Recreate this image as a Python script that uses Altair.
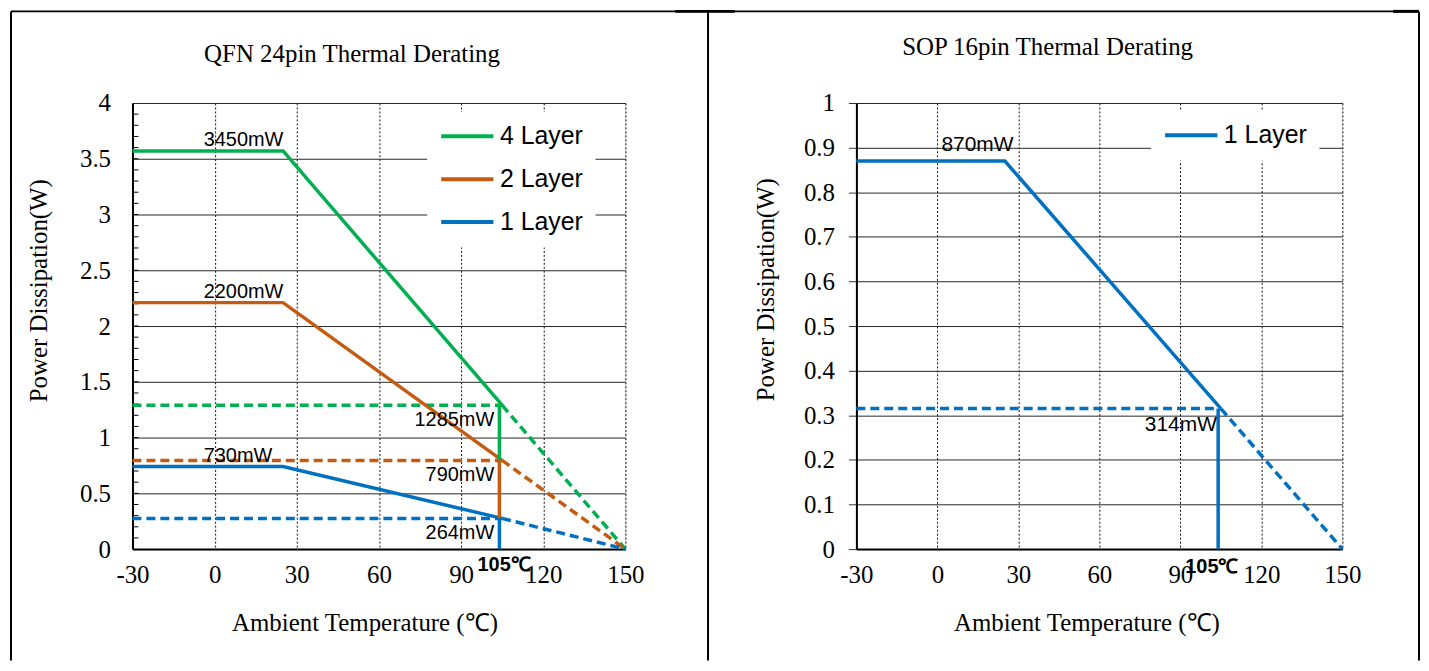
import altair as alt
import pandas as pd

# ---------------- data ----------------
# Left panel: QFN 24pin
qfn_layers = ["4 Layer", "2 Layer", "1 Layer"]
qfn_colors = ["#00B050", "#C55A11", "#0070C0"]
qfn_p_max = [3.57, 2.21, 0.74]          # W, flat part (up to the knee)
qfn_p_105 = [1.29, 0.795, 0.275]        # W, at 105 degC
qfn_v_bottom = [0.795, 0.275, 0.0]      # W, bottom of the vertical marker at 105 degC
qfn_top_labels = ["3450mW", "2200mW", "730mW"]
qfn_low_labels = ["1285mW", "790mW", "264mW"]

# Right panel: SOP 16pin
sop_layers = ["1 Layer"]
sop_colors = ["#0070C0"]
sop_p_max = [0.87]
sop_p_105 = [0.315]
sop_v_bottom = [0.0]
sop_top_labels = ["870mW"]
sop_low_labels = ["314mW"]

# temperatures (degC)
t_min = -30
t_knee = 25
t_rated = 105
t_vert = 104
t_zero = 150
t_label_qfn = -4
t_label_sop = 1.5

x_ticks = [-30, 0, 30, 60, 90, 120, 150]
qfn_y_ticks = [0, 0.5, 1, 1.5, 2, 2.5, 3, 3.5, 4]
qfn_minor_ticks = [i / 10 for i in range(1, 40)]
sop_y_ticks = [0, 0.1, 0.2, 0.3, 0.4, 0.5, 0.6, 0.7, 0.8, 0.9, 1]

SERIF = "Liberation Serif"
SANS = "Liberation Sans"


def panel(title, title_dx, title_offset, layers, colors, p_max, p_105, v_bottom,
          top_labels, low_labels, t_label, y_ticks, y_max, width, height,
          legend_xy, top_dy, low_dx, low_dy, deg_dx, deg_dy, ann_size,
          y_tick_size, y_label_pad, y_title_xy, x_title_xy, minor=None, frame=None):
    solid, dashed, vert, tops, lows = [], [], [], [], []
    for lay, pm, p5, vb, tl, ll in zip(layers, p_max, p_105, v_bottom, top_labels, low_labels):
        solid += [dict(layer=lay, t=t_min, p=pm), dict(layer=lay, t=t_knee, p=pm),
                  dict(layer=lay, t=t_rated, p=p5)]
        dashed += [dict(layer=lay, seg="h", t=t_min, p=p5), dict(layer=lay, seg="h", t=t_rated, p=p5),
                   dict(layer=lay, seg="d", t=t_rated, p=p5), dict(layer=lay, seg="d", t=t_zero, p=0)]
        vert.append(dict(layer=lay, t=t_vert, p=p5, p2=vb))
        tops.append(dict(t=t_label, p=pm, txt=tl))
        lows.append(dict(t=t_rated, p=p5, txt=ll))
    deg = [dict(t=t_rated, p=0, txt="105℃")]

    X = alt.X("t:Q", scale=alt.Scale(domain=[-30, 150], nice=False, zero=False),
              axis=alt.Axis(values=x_ticks, labelExpr="'' + datum.value",
                            title="Ambient Temperature (℃)",
                            labelFont=SERIF, labelFontSize=25, labelColor="black",
                            labelPadding=14, ticks=False, domainColor="black", domainWidth=2,
                            grid=True, gridColor="#111111", gridDash=[2, 2], gridWidth=1,
                            titleFont=SERIF, titleFontSize=25, titleFontWeight="normal",
                            titleColor="black", titleX=x_title_xy[0], titleY=x_title_xy[1],
                            titleAlign="center", titleBaseline="alphabetic", labelFlush=False))
    Y = alt.Y("p:Q", scale=alt.Scale(domain=[0, y_max], nice=False),
              axis=alt.Axis(values=y_ticks, labelExpr="'' + datum.value",
                            title="Power Dissipation(W)",
                            labelFont=SERIF, labelFontSize=25, labelColor="black",
                            labelPadding=y_label_pad, ticks=y_tick_size > 0,
                            tickSize=max(y_tick_size, 0), tickColor="#333333",
                            domainColor="black", domainWidth=2,
                            grid=True, gridColor="#262626", gridWidth=1,
                            titleFont=SERIF, titleFontSize=25, titleFontWeight="normal",
                            titleColor="black", titleAngle=270, titleX=y_title_xy[0],
                            titleY=y_title_xy[1], titleAlign="center", titleBaseline="middle",
                            labelFlush=False))
    leg = alt.Legend(title=None, orient="none", legendX=legend_xy[0], legendY=legend_xy[1],
                     direction="vertical", symbolType="M-1,0H4", symbolSize=441,
                     symbolStrokeWidth=4, labelFont=SANS, labelFontSize=25,
                     labelColor="black", labelOffset=36, rowPadding=17, padding=12,
                     fillColor="white")
    C = alt.Color("layer:N", scale=alt.Scale(domain=layers, range=colors), legend=leg)

    base_layers = []
    if minor is not None:
        base_layers.append(
            alt.Chart(pd.DataFrame({"p": minor})).mark_rule(color="black", strokeWidth=1)
            .encode(y=Y, x=alt.value(0), x2=alt.value(6)))
    dashed_l = alt.Chart(pd.DataFrame(dashed)).mark_line(strokeWidth=3.5, strokeDash=[9, 5]).encode(
        x=X, y=Y, color=C, detail="seg:N")
    solid_l = alt.Chart(pd.DataFrame(solid)).mark_line(strokeWidth=3.5).encode(x=X, y=Y, color=C)
    vert_l = alt.Chart(pd.DataFrame(vert)).mark_rule(strokeWidth=3.5).encode(
        x=X, y=Y, y2="p2:Q", color=C)
    top_t = alt.Chart(pd.DataFrame(tops)).mark_text(
        align="left", baseline="alphabetic", dy=top_dy, font=SANS, fontSize=ann_size,
        color="black").encode(x=X, y=Y, text="txt:N")
    low_t = alt.Chart(pd.DataFrame(lows)).mark_text(
        align="right", baseline="alphabetic", dx=low_dx, dy=low_dy, font=SANS,
        fontSize=ann_size, color="black").encode(x=X, y=Y, text="txt:N")
    deg_t = alt.Chart(pd.DataFrame(deg)).mark_text(
        align="center", baseline="alphabetic", dx=deg_dx, dy=deg_dy, font=SANS,
        fontSize=20, fontWeight="bold", color="black").encode(x=X, y=Y, text="txt:N")

    frame_layers = []
    one = alt.Data(values=[{"k": 1}])
    for kind, a, b, c, w in frame:
        if kind == "v":
            enc = dict(x=alt.value(a), y=alt.value(b), y2=alt.value(c))
        else:
            enc = dict(y=alt.value(a), x=alt.value(b), x2=alt.value(c))
        frame_layers.append(alt.Chart(one).mark_rule(color="black", strokeWidth=w, clip=False)
                            .encode(**enc))

    ch = alt.layer(*base_layers, dashed_l, solid_l, vert_l, top_t, low_t, deg_t, *frame_layers)
    return ch.properties(
        width=width, height=height,
        title=alt.TitleParams(title, font=SERIF, fontSize=25, fontWeight="normal",
                              color="black", frame="group", anchor="middle", dx=title_dx,
                              offset=title_offset, baseline="alphabetic"))


left = panel("QFN 24pin Thermal Derating", -27, -77, qfn_layers, qfn_colors, qfn_p_max, qfn_p_105,
             qfn_v_bottom, qfn_top_labels, qfn_low_labels, t_label_qfn, qfn_y_ticks, 4, 495, 448,
             (296, 9), -5, -8, 21, 2, 22, 20, 0, 22, (-94, 188), (233, 82),
             minor=qfn_minor_ticks,
             frame=[("v", -122, -92, 560, 2), ("h", -92, -122, 578, 2),
                    ("v", 578, -92, 560, 2), ("h", -92, 545, 605, 3)])

right = panel("SOP 16pin Thermal Derating", -52, -70, sop_layers, sop_colors, sop_p_max, sop_p_105,
              sop_v_bottom, sop_top_labels, sop_low_labels, t_label_sop, sop_y_ticks, 1, 488, 448,
              (296, 8), -10, -4, 23, -9, 24, 21, 8, 14, (-91, 187), (231, 82),
              frame=[("h", -92, -147, 565, 2), ("v", 565, -92, 560, 2), ("h", -92, 539, 565, 3)])

chart = alt.hconcat(left, right, spacing=232, bounds="flush",
                    padding={"left": 1, "top": 0, "right": 0, "bottom": 0}) \
    .resolve_scale(color="independent", x="independent", y="independent") \
    .resolve_legend(color="independent") \
    .configure_view(stroke="#8c8c8c", strokeWidth=2) \
    .configure(background="white")

chart.save("out.html", embed_options={"renderer": "svg", "actions": False})
